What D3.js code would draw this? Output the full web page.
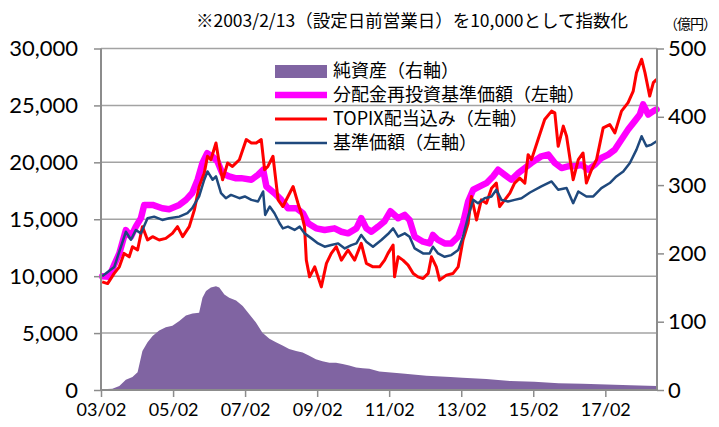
<!DOCTYPE html>
<html>
<head>
<meta charset="utf-8">
<script src="https://cdn.jsdelivr.net/npm/d3@7"></script>
<style>
  body { margin: 0; background: #fff; }
  text { font-family: Lato, "Noto Sans CJK JP", sans-serif; fill: #000; }
  .jp { font-family: "Noto Sans CJK JP", sans-serif; }
</style>
</head>
<body>
<script>
// time is given as months since the launch base date (2003/2/13)
var baseDate = "2003-02-13";

// 純資産 (億円, right axis)
var netAssets = [[0,1],[3.4,2],[5.7,6],[7.9,15],[10.1,19],[11.8,26],[13.4,57],[15.1,70],[16.8,79],[19,87],
  [21.2,92],[23.4,94],[25.7,101],[27.9,109],[30.1,112],[32.3,113],[33.4,135],[34.6,145],[36.2,150],[37.9,152],
  [39,150],[40.7,140],[42.3,135],[44.6,131],[46.8,123],[49,111],[51.2,99],[53.4,84],[55.7,75],[57.9,70],
  [60.1,65],[62.3,60],[64.6,57],[66.8,55],[69,50],[71.2,45],[73.4,42],[75.7,40],[77.9,40],[80.1,38],
  [82.3,36],[84.6,33],[86.8,32],[89,31],[92.3,27],[100,24],[108,21],[116,19],[120,18],[128,16],
  [136,13],[144,12],[152,10],[160,9],[168,8],[176,7],[184.7,6]];

// 分配金再投資基準価額 (left axis)
var reinvested = [[0,10000],[2.3,9950],[4,11000],[5.7,12000],[7.9,14050],[9.6,13470],[11.2,14350],[12.9,15100],
  [14,16260],[16.8,16260],[20,15970],[22.3,15880],[25.7,16260],[27.9,16700],[30,17300],[31.8,18470],[33.4,19940],
  [35,20800],[36.8,20500],[38.4,20080],[40,19050],[42.3,18760],[44.6,18600],[46.3,18610],[49.7,18470],
  [51.9,18900],[53.6,19350],[54.7,17880],[57.4,17290],[59.7,16700],[61.9,15970],[64.7,15970],[66.9,15530],
  [68.6,14650],[71.3,14200],[74.1,14060],[77.4,14200],[79.7,13900],[81.9,13760],[84.7,14200],[86.3,15090],
  [88,14200],[89.7,13900],[91.9,14350],[94,14800],[96,15700],[98.6,15090],[100.8,15380],[102.4,14940],
  [104.1,13470],[106.9,13030],[109.1,12880],[110.2,13620],[111.9,13180],[114.1,12880],[116.3,12880],
  [118.6,13470],[120.2,14650],[121.9,16560],[123.6,17590],[125.8,17880],[128,18170],[130.2,18760],
  [131.9,19350],[134.1,18900],[136.3,18470],[138.6,19050],[140.8,19500],[143,19950],[146.3,20530],
  [148.6,20680],[150.8,19940],[153,19500],[155.2,19650],[157.4,19650],[159.7,19790],[161.9,19350],
  [164.1,19790],[166.3,20380],[168.6,20680],[170.8,21120],[173,22000],[175.2,22880],[177.4,23620],
  [179.1,24200],[180.2,25090],[181.9,24200],[183.6,24500],[184.7,24650]];

// TOPIX配当込み (left axis)
var topix = [[0,9500],[1.8,9350],[4,10240],[5.7,10820],[7.3,12000],[9,11700],[10.1,12590],[11.8,12300],
  [13.4,14350],[15.1,13180],[16.8,13470],[19,13180],[21.2,13320],[23.4,13760],[25.1,14350],[26.8,13470],
  [29,14350],[30.7,15820],[32.3,17880],[34,19050],[35.1,20530],[36.2,20230],[37.9,21700],[39,19940],
  [40.1,18470],[41.8,19940],[43.4,19640],[45.7,20230],[48,22000],[49.7,21700],[51.3,21700],[53,22000],
  [54.1,19350],[55.2,19640],[56.9,20530],[58.6,16700],[60.2,16120],[61.9,17000],[63.6,17880],[65.2,16410],
  [66.3,15530],[67.4,14350],[68,11410],[69.1,9940],[70.8,10820],[73,9060],[74.7,11120],[76.3,12000],
  [78,12590],[79.7,11410],[81.9,12300],[84.1,11410],[86.3,12880],[88,11120],[90.2,10820],[92.4,10820],
  [94.1,11410],[95.2,12000],[96.9,12730],[97.4,9940],[98.6,11700],[100.2,11410],[101.9,10970],[103.6,10240],
  [105.2,9940],[106.9,9790],[108.6,10240],[109.7,11700],[111.3,10820],[112.4,9650],[114.7,10090],
  [116.9,10240],[118.6,10820],[120.2,13180],[121.9,14650],[123,17000],[124.7,14940],[126.3,16700],
  [128,16410],[129.7,17730],[131.3,18170],[132.4,16110],[134.1,16700],[135.8,17290],[137.4,18170],
  [139.1,18610],[140.8,18170],[141.9,20670],[143,20240],[145.2,22000],[147.4,23760],[149.7,24500],
  [150.8,24350],[151.9,21410],[153.6,23180],[154.7,22290],[156.9,18470],[158.6,20240],[160.2,20820],
  [161.3,18180],[163,19350],[164.7,20240],[166.9,23030],[169.1,23320],[170.8,22590],[173,24500],
  [175.2,25240],[176.9,26260],[178,27880],[179.7,29060],[180.8,27880],[182.4,25820],[183.6,27000],[184.7,27290]];

// 基準価額 (left axis)
var nav = [[0,10000],[4,10800],[7.9,13900],[9.6,13200],[11.2,14060],[12.9,13760],[15.1,15090],[17.3,15230],
  [20,14940],[22.3,15090],[25.7,15230],[28.4,15530],[30,15970],[32.3,17000],[34,18470],[35.1,19200],
  [36.8,18470],[37.9,18760],[39.6,17290],[41.2,16850],[42.9,17140],[45.7,16850],[47.5,17000],[49.7,16700],
  [51.9,16560],[53.6,17440],[54.3,15380],[55.8,16120],[57.4,15530],[59.1,14650],[60.2,14200],[61.9,14350],
  [64.1,14060],[65.8,14350],[67.4,13760],[69.7,13320],[71.9,12880],[74.1,12590],[76.3,12730],[78.6,12880],
  [80.8,12440],[83,12730],[84.7,12880],[86.3,13620],[88,13030],[90.2,12590],[93,13180],[95.2,13700],
  [96.9,14200],[98.6,13470],[100.8,13760],[102.4,13470],[104.1,12440],[106.9,12000],[109.1,12000],
  [110.2,12590],[111.9,12000],[114.1,11700],[116.3,11850],[118.6,12290],[120.2,13470],[121.9,15230],
  [123.6,16700],[125.2,16410],[127.4,16850],[129.7,17000],[131.3,17590],[133,16700],[135.2,16560],
  [137.4,16700],[139.7,16850],[142.5,17350],[146.3,17880],[149.7,18320],[151.9,17590],[154.7,17740],
  [156.9,16410],[158.6,17440],[161.3,17000],[163.6,17000],[166.3,17740],[169.1,18180],[171.3,18760],
  [173.6,19200],[175.8,19940],[178,21120],[179.7,22290],[181.3,21410],[183,21560],[184.7,21850]];

var leftTicks = [0, 5000, 10000, 15000, 20000, 25000, 30000];
var rightTicks = [0, 100, 200, 300, 400, 500];
var xTickLabels = ["03/02", "05/02", "07/02", "09/02", "11/02", "13/02", "15/02", "17/02"];
var legendLabels = ["純資産（右軸）", "分配金再投資基準価額（左軸）", "TOPIX配当込み（左軸）", "基準価額（左軸）"];
var titleText = "※2003/2/13（設定日前営業日）を10,000として指数化";
var unitText = "（億円）";

var W = 719, H = 427;
var margin = {left: 101, right: 62, top: 48.5, bottom: 37};

var svg = d3.select("body").append("svg")
    .attr("width", W)
    .attr("height", H);

var base = d3.timeParse("%Y-%m-%d")(baseDate);
function toDate(m) { return d3.timeDay.offset(base, Math.round(m * 30.44)); }

var x = d3.scaleTime()
    .domain([new Date(2003, 1, 1), new Date(2018, 6, 10)])
    .range([margin.left, W - margin.right]);
var yL = d3.scaleLinear().domain([0, 30000]).range([H - margin.bottom, margin.top]);
var yR = d3.scaleLinear().domain([0, 500]).range([H - margin.bottom, margin.top]);

var gridColor = "#a3a3a3";

// gridlines
svg.append("g").selectAll("line")
  .data(leftTicks.slice(1))
  .enter().append("line")
    .attr("x1", margin.left).attr("x2", W - margin.right)
    .attr("y1", function(d) { return yL(d); })
    .attr("y2", function(d) { return yL(d); })
    .attr("stroke", gridColor)
    .attr("stroke-width", 1.5);

// net assets area
var area = d3.area()
    .x(function(d) { return x(toDate(d[0])); })
    .y0(yR(0))
    .y1(function(d) { return yR(d[1]); });
svg.append("path")
    .datum(netAssets)
    .attr("d", area)
    .attr("fill", "#8064a2");

var lineL = d3.line()
    .x(function(d) { return x(toDate(d[0])); })
    .y(function(d) { return yL(d[1]); });

svg.append("path").datum(reinvested).attr("d", lineL)
    .attr("fill", "none").attr("stroke", "#ff00ff").attr("stroke-width", 6.5)
    .attr("stroke-linejoin", "round").attr("stroke-linecap", "round");
svg.append("path").datum(topix).attr("d", lineL)
    .attr("fill", "none").attr("stroke", "#ff0000").attr("stroke-width", 3)
    .attr("stroke-linejoin", "round");
svg.append("path").datum(nav).attr("d", lineL)
    .attr("fill", "none").attr("stroke", "#1f497d").attr("stroke-width", 2.5)
    .attr("stroke-linejoin", "round");

// axes
var axisColor = "#8c8c8c";
var gL = svg.append("g")
    .attr("transform", "translate(" + margin.left + ",0)")
    .call(d3.axisLeft(yL).tickValues(leftTicks).tickSize(7).tickPadding(16)
      .tickFormat(d3.format(",")));
var gR = svg.append("g")
    .attr("transform", "translate(" + (W - margin.right) + ",0)")
    .call(d3.axisRight(yR).tickValues(rightTicks).tickSize(7).tickPadding(4));

var xTickDates = xTickLabels.map(function(s) { return d3.timeParse("%y/%m")(s); });
var gX = svg.append("g")
    .attr("transform", "translate(0," + (H - margin.bottom) + ")")
    .call(d3.axisBottom(x).tickValues(xTickDates).tickSize(7).tickPadding(6)
      .tickFormat(function(d, i) { return xTickLabels[i]; }));

[gL, gR, gX].forEach(function(g) {
  g.selectAll("path").attr("stroke", axisColor).attr("stroke-width", 2);
  g.selectAll("line").attr("stroke", axisColor).attr("stroke-width", 1.5);
  g.selectAll("text").attr("font-family", null).style("fill", "#000");
});
gL.selectAll("text").attr("font-size", 22);
gR.selectAll("text").attr("font-size", 22);
gX.selectAll("text").attr("font-size", 18);
gL.select(".domain").attr("d", "M0," + yL(30000) + "V" + yL(0));
gR.select(".domain").attr("d", "M0," + yR(500) + "V" + yR(0));
gX.select(".domain").attr("d", "M" + margin.left + ",0H" + (W - margin.right));

// title and unit
svg.append("text").attr("class", "jp")
    .attr("x", 412).attr("y", 27)
    .attr("text-anchor", "middle")
    .attr("font-size", 17.5)
    .text(titleText);
svg.append("text").attr("class", "jp")
    .attr("x", 716).attr("y", 29)
    .attr("text-anchor", "end")
    .attr("font-size", 14)
    .attr("letter-spacing", -1)
    .text(unitText);

// legend
var legend = svg.append("g").attr("transform", "translate(275,71)");
var rowH = 24;
legend.append("rect")
    .attr("x", 0).attr("y", -6).attr("width", 52).attr("height", 13)
    .attr("fill", "#8064a2");
var lineSw = [{c: "#ff00ff", w: 6.5}, {c: "#ff0000", w: 3}, {c: "#1f497d", w: 2.5}];
legend.selectAll(".sw")
  .data(lineSw)
  .enter().append("line")
    .attr("x1", 0).attr("x2", 52)
    .attr("y1", function(d, i) { return (i + 1) * rowH; })
    .attr("y2", function(d, i) { return (i + 1) * rowH; })
    .attr("stroke", function(d) { return d.c; })
    .attr("stroke-width", function(d) { return d.w; });
legend.selectAll(".lt")
  .data(legendLabels)
  .enter().append("text")
    .attr("class", "jp")
    .attr("x", 58)
    .attr("y", function(d, i) { return i * rowH; })
    .attr("dy", "0.36em")
    .attr("font-size", 18)
    .text(function(d) { return d; });
</script>
</body>
</html>
